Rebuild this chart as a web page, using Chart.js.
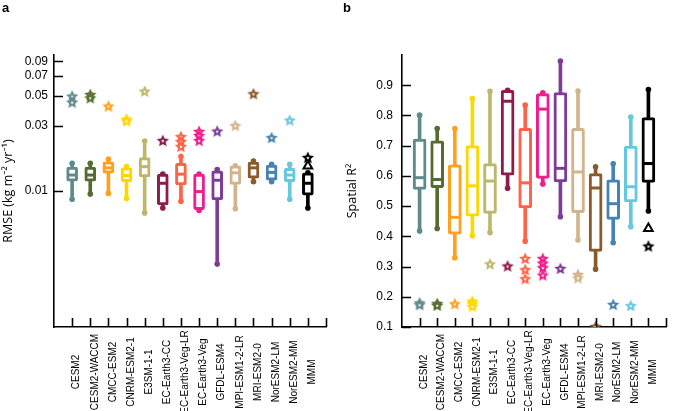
<!DOCTYPE html>
<html>
<head>
<meta charset="utf-8">
<script src="https://cdn.jsdelivr.net/npm/chart.js@4.4.1/dist/chart.umd.min.js"></script>
<style>
  html, body { margin: 0; padding: 0; background: #fff; }
  #wrap { position: relative; width: 674px; height: 411px; }
  .panel { position: absolute; top: 0; width: 337px; height: 411px; }
  #panelA { left: 0; }
  #panelB { left: 337px; }
</style>
</head>
<body>
<div id="wrap">
  <div class="panel" id="panelA"><canvas id="chartA"></canvas></div>
  <div class="panel" id="panelB"><canvas id="chartB"></canvas></div>
</div>
<script>
const models = ["CESM2", "CESM2-WACCM", "CMCC-ESM2", "CNRM-ESM2-1", "E3SM-1-1", "EC-Earth3-CC",
	"EC-Earth3-Veg-LR", "EC-Earth3-Veg", "GFDL-ESM4", "MPI-ESM1-2-LR", "MRI-ESM2-0", "NorESM2-LM",
	"NorESM2-MM", "MMM"];
const modelColors = ["#5f8a8b", "#556b2f", "#ffa01e", "#ffd700", "#bdb76b", "#8b1c4c",
	"#ff6347", "#ee1f8a", "#7d3c98", "#d2b48c", "#8b5a2b", "#4682b4", "#66c8de", "#000000"];

// panel a: RMSE (log axis)
const rmseMin = [0.0087, 0.0095, 0.0096, 0.0088, 0.0069, 0.0075, 0.0084, 0.0072, 0.0029, 0.0074, 0.0117, 0.0117, 0.0087, 0.0075];
const rmseQ1 = [0.0118, 0.0118, 0.0135, 0.0117, 0.0127, 0.0079, 0.0111, 0.0073, 0.0086, 0.0112, 0.0124, 0.0120, 0.0117, 0.0093];
const rmseMed = [0.0131, 0.0131, 0.0148, 0.0130, 0.0151, 0.0114, 0.0133, 0.0099, 0.0120, 0.0136, 0.0148, 0.0137, 0.0131, 0.0114];
const rmseQ3 = [0.0150, 0.0150, 0.0164, 0.0148, 0.0176, 0.0133, 0.0160, 0.0133, 0.0141, 0.0153, 0.0163, 0.0155, 0.0147, 0.0136];
const rmseMax = [0.0160, 0.0160, 0.0172, 0.0151, 0.0233, 0.0133, 0.0179, 0.0133, 0.0144, 0.0153, 0.0166, 0.0157, 0.0157, 0.0136];
const rmseStars = [[0.0494, 0.0446], [0.0508, 0.0480], [0.0417], [0.0335, 0.0325], [0.0537], [0.0233],
	[0.0249, 0.0229, 0.0211], [0.0272, 0.0254, 0.0233], [0.0273], [0.0300], [0.0514], [0.0245], [0.0329], [0.0175]];
const rmseTriangle = 0.0153;
const rmseTicks = [0.01, 0.03, 0.05, 0.07, 0.09];

// panel b: spatial R2
const r2Min = [0.418, 0.426, 0.329, 0.402, 0.413, 0.559, 0.384, 0.573, 0.465, 0.388, 0.291, 0.379, 0.432, 0.484];
const r2Q1 = [0.555, 0.561, 0.407, 0.467, 0.476, 0.602, 0.494, 0.592, 0.580, 0.478, 0.350, 0.456, 0.514, 0.578];
const r2Med = [0.594, 0.588, 0.463, 0.567, 0.583, 0.847, 0.577, 0.821, 0.625, 0.613, 0.560, 0.508, 0.564, 0.641];
const r2Q3 = [0.722, 0.716, 0.637, 0.700, 0.641, 0.883, 0.757, 0.872, 0.876, 0.757, 0.608, 0.587, 0.699, 0.793];
const r2Max = [0.801, 0.757, 0.757, 0.856, 0.880, 0.883, 0.834, 0.875, 0.980, 0.881, 0.630, 0.640, 0.795, 0.886];
const r2Stars = [[0.178, 0.172], [0.176, 0.170], [0.175], [0.184, 0.176, 0.167], [0.307], [0.300],
	[0.325, 0.288, 0.258], [0.325, 0.310, 0.295, 0.270], [0.292], [0.272, 0.261], [0.100], [0.173], [0.169], [0.366]];
const r2Triangle = 0.426;
const r2Ticks = [0.1, 0.2, 0.3, 0.4, 0.5, 0.6, 0.7, 0.8, 0.9];

const SANS = '"Liberation Sans", Arial, sans-serif';
const TITLE_FONT = '"Open Sans", "Noto Sans", sans-serif';

// star marker drawn once per colour
var starCache = {};
function starImage(color) {
	if (starCache[color]) return starCache[color];
	var c = document.createElement("canvas");
	c.width = 16;
	c.height = 16;
	var g = c.getContext("2d");
	function star(R, r) {
		g.beginPath();
		for (let k = 0; k < 10; k++) {
			var rad = k % 2 === 0 ? R : r;
			var a = -Math.PI / 2 + (k * Math.PI) / 5;
			g.lineTo(8 + rad * Math.cos(a), 8 + rad * Math.sin(a));
		}
		g.closePath();
		g.fill();
	}
	g.fillStyle = color;
	star(6.4, 3.1);
	g.fillStyle = "#fff";
	star(1.7, 0.8);
	starCache[color] = c;
	return c;
}

// inward ticks, rotated category labels, panel letter
const frame = {
	id: "frame",
	afterDraw(chart, args, opts) {
		const ctx = chart.ctx;
		const xs = chart.scales.x;
		const ys = chart.scales.y;
		const area = chart.chartArea;
		ctx.save();
		ctx.strokeStyle = "#000";
		ctx.lineWidth = 1.6;
		ctx.beginPath();
		xs.ticks.forEach((t) => {
			if (t.value <= 0) return;
			var px = Math.round(xs.getPixelForValue(t.value)) + 0.5;
			ctx.moveTo(px, area.bottom);
			ctx.lineTo(px, area.bottom - 9);
		});
		ys.ticks.forEach((t) => {
			var py = Math.round(ys.getPixelForValue(t.value)) + 0.5;
			ctx.moveTo(area.left, py);
			ctx.lineTo(area.left + 9, py);
		});
		ctx.stroke();

		ctx.fillStyle = "#000";
		ctx.font = "10px " + SANS;
		ctx.textAlign = "center";
		ctx.textBaseline = "middle";
		models.forEach((m, i) => {
			ctx.save();
			ctx.translate(xs.getPixelForValue(i + 1) + 4.5, 372);
			ctx.rotate(-Math.PI / 2);
			ctx.fillText(m, 0, 0);
			ctx.restore();
		});

		ctx.font = "bold 13px " + SANS;
		ctx.textAlign = "left";
		ctx.textBaseline = "alphabetic";
		ctx.fillText(opts.letter, opts.letterX, 12);
		ctx.restore();
	},
};

function makeChart(id, p) {
	var capPts = [], capColors = [];
	models.forEach((m, i) => {
		capPts.push({ x: i + 1, y: p.min[i] }, { x: i + 1, y: p.max[i] });
		capColors.push(modelColors[i], modelColors[i]);
	});
	var starPts = [], starImgs = [];
	p.stars.forEach((list, i) => {
		list.forEach((v) => {
			starPts.push({ x: i + 1, y: v });
			starImgs.push(starImage(modelColors[i]));
		});
	});

	return new Chart(document.getElementById(id), {
		type: "bar",
		data: {
			datasets: [
				{
					type: "bar",
					data: models.map((m, i) => ({ x: i + 1, y: [p.min[i], p.max[i]] })),
					backgroundColor: modelColors,
					barThickness: 3,
					grouped: false,
					order: 6,
				},
				{
					type: "scatter",
					data: capPts,
					pointStyle: "circle",
					pointRadius: 2.8,
					pointBorderWidth: 0,
					pointBackgroundColor: capColors,
					order: 5,
				},
				{
					type: "bar",
					data: models.map((m, i) => ({ x: i + 1, y: [p.q1[i], p.q3[i]] })),
					backgroundColor: "#fff",
					borderColor: modelColors,
					borderWidth: 3,
					borderSkipped: false,
					borderRadius: 2,
					barThickness: p.boxW,
					grouped: false,
					order: 4,
				},
				{
					type: "scatter",
					data: models.map((m, i) => ({ x: i + 1, y: p.med[i] })),
					pointStyle: "line",
					pointRadius: (p.boxW - 3) / 2,
					pointBorderWidth: 3,
					borderColor: modelColors,
					pointBorderColor: modelColors,
					order: 3,
				},
				{
					type: "scatter",
					data: [{ x: 14, y: p.triangle }],
					pointStyle: "triangle",
					pointRadius: 5,
					pointBorderWidth: 2,
					pointBorderColor: "#000",
					pointBackgroundColor: "#fff",
					order: 2,
				},
				{
					type: "scatter",
					data: starPts,
					pointStyle: starImgs,
					pointRadius: 6,
					order: 1,
				},
			],
		},
		options: {
			animation: false,
			responsive: true,
			maintainAspectRatio: false,
			events: [],
			layout: { padding: { top: 55, right: p.padRight, left: 0, bottom: 0 } },
			plugins: {
				legend: { display: false },
				tooltip: { enabled: false },
				frame: { letter: p.letter, letterX: p.letterX },
			},
			scales: {
				x: {
					type: "linear",
					min: 0,
					max: 15,
					offset: false,
					grid: { display: false, drawTicks: false },
					border: { display: true, color: "#000", width: 1.6 },
					ticks: { display: false, stepSize: 1 },
					afterFit: (s) => {
						s.height = 84;
					},
				},
				y: {
					type: p.yType,
					min: p.yMin,
					max: p.yMax,
					grid: { display: false, drawTicks: false },
					border: { display: true, color: "#000", width: 1.6 },
					ticks: {
						color: "#000",
						font: { family: SANS, size: 12 },
						padding: p.tickPad,
						callback: p.fmt,
					},
					afterBuildTicks: (s) => {
						s.ticks = p.ticks.map((v) => ({ value: v }));
					},
					afterFit: (s) => {
						s.width = p.axisW;
					},
					title: {
						display: true,
						text: p.title,
						color: "#000",
						font: { family: TITLE_FONT, size: 12.5 },
						padding: { top: p.titlePad, bottom: 0 },
					},
				},
			},
		},
		plugins: [frame],
	});
}

makeChart("chartA", {
	min: rmseMin, q1: rmseQ1, med: rmseMed, q3: rmseQ3, max: rmseMax,
	stars: rmseStars, triangle: rmseTriangle, ticks: rmseTicks,
	yType: "logarithmic", yMin: 0.001, yMax: 0.1,
	fmt: (v) => v.toFixed(2),
	title: "RMSE (kg m\u207b\u00b2 yr\u207b\u00b9)",
	boxW: 11, axisW: 54, padRight: 11, tickPad: 6, titlePad: 1,
	letter: "a", letterX: 2,
});

makeChart("chartB", {
	min: r2Min, q1: r2Q1, med: r2Med, q3: r2Q3, max: r2Max,
	stars: r2Stars, triangle: r2Triangle, ticks: r2Ticks,
	yType: "linear", yMin: 0.1, yMax: 1.0,
	fmt: (v) => v.toFixed(1),
	title: "Spatial R\u00b2",
	boxW: 13, axisW: 65, padRight: 0, tickPad: 9, titlePad: 8,
	letter: "b", letterX: 6,
});
</script>
</body>
</html>
